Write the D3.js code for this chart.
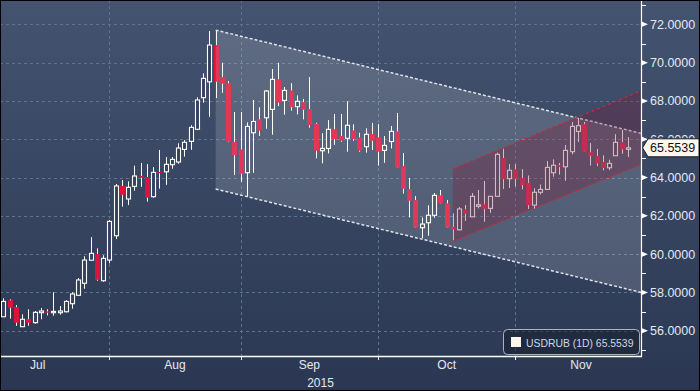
<!DOCTYPE html>
<html><head><meta charset="utf-8">
<script src="https://cdn.jsdelivr.net/npm/d3@7"></script>
<style>html,body{margin:0;padding:0;background:#2d3a55;}svg{display:block;}</style>
</head><body>
<svg id="chart" width="700" height="391"></svg>
<script>
// ---- data ----
const firstDay = new Date(2015, 6, 9);
const lastDay = new Date(2015, 10, 26);
const monthLabels = ["Jul", "Aug", "Sep", "Oct", "Nov"];
const yearLabel = "2015";
const yTicks = [56, 58, 60, 62, 64, 66, 68, 70, 72];
const yMinorTicks = [55, 57, 59, 61, 63, 65, 67, 69, 71, 73];
const open = [56.73,57.59,57.24,56.21,56.60,56.42,56.94,57.01,56.94,56.94,
56.99,57.41,57.85,58.48,59.68,60.01,58.61,59.69,60.96,63.56,
62.88,63.54,64.08,64.03,63.00,64.29,64.30,64.67,64.81,65.47,
65.89,66.52,68.17,69.00,70.92,69.25,68.92,65.85,65.47,64.25,
66.34,67.04,67.12,67.56,69.13,68.03,68.55,67.70,67.94,67.58,
66.81,65.40,65.52,66.52,66.17,66.05,66.46,66.10,65.61,66.27,
66.10,65.42,65.88,66.41,64.60,63.40,62.83,61.38,61.64,62.03,
63.07,62.65,61.42,61.27,62.34,61.95,62.50,62.60,62.39,63.02,
65.02,63.94,64.43,63.97,63.71,62.56,63.23,63.38,64.25,64.64,
64.56,65.35,66.41,66.79,65.32,65.12,64.81,64.51,65.14,65.85,
65.47];
const high = [57.69,57.64,57.34,56.86,57.12,57.03,57.19,57.12,58.01,57.29,
57.59,58.01,58.75,59.89,60.89,60.30,59.94,61.78,63.66,63.87,
63.80,64.62,64.76,64.70,64.55,65.44,65.07,65.07,65.79,65.96,
66.73,68.19,69.44,71.65,71.70,69.99,69.04,67.42,67.42,66.88,
68.05,67.67,68.57,69.67,69.99,68.73,68.93,68.29,68.11,69.25,
66.86,66.31,67.00,67.32,67.32,67.99,66.78,66.34,66.57,66.85,
66.79,66.17,66.69,67.37,65.28,63.97,63.03,61.91,62.55,63.19,
63.35,62.83,62.13,62.46,62.56,63.19,63.35,63.82,63.03,65.30,
65.56,64.70,64.70,64.44,64.11,63.44,63.64,64.86,64.95,64.76,
65.70,66.90,67.12,66.90,65.80,65.49,65.16,64.93,66.27,66.48,
66.11];
const low = [56.72,56.63,56.26,56.20,56.26,56.37,56.60,56.80,56.78,56.84,
56.96,57.15,57.85,58.19,59.68,58.61,58.56,59.52,60.79,62.48,
62.56,63.31,63.52,62.74,62.95,63.42,63.62,64.46,64.72,65.09,
65.45,66.48,67.91,67.17,68.15,68.43,65.85,64.13,63.78,63.00,
64.25,66.17,66.55,66.24,67.73,67.28,67.49,67.30,67.04,66.60,
65.00,64.74,65.26,65.71,65.87,65.35,65.92,65.35,65.30,65.44,
64.62,64.77,65.52,64.51,63.16,61.92,61.38,60.83,60.96,61.90,
62.65,61.38,60.68,61.24,61.73,61.95,62.39,61.69,62.16,63.00,
63.40,63.45,63.52,63.38,62.36,62.39,63.12,63.38,64.04,64.15,
63.83,65.21,65.85,65.35,64.62,64.60,64.38,64.39,65.14,65.24,
65.07];
const close = [57.53,57.20,56.42,56.60,56.42,56.96,57.03,56.94,57.01,57.03,
57.53,57.92,58.65,59.69,60.04,58.66,59.78,61.71,63.56,63.10,
63.49,64.08,63.99,62.95,64.27,64.24,64.69,64.95,65.54,65.84,
66.62,68.05,69.18,70.92,69.00,68.90,65.87,65.17,64.20,66.67,
66.93,66.44,68.52,69.13,67.91,68.55,67.68,67.98,67.54,66.74,
65.40,65.52,66.52,66.01,65.92,66.73,66.01,65.40,66.26,65.92,
65.35,65.68,66.41,64.51,63.42,62.79,61.38,61.57,62.03,63.07,
62.65,61.38,61.30,62.36,62.11,63.02,62.58,62.37,63.02,65.21,
63.92,64.38,63.94,63.61,62.56,63.23,63.38,64.53,64.64,64.55,
65.42,66.67,66.71,65.35,65.14,64.74,64.50,64.74,65.84,65.47,
65.5539];
const lastPrice = 65.5539;
const legendText = "USDRUB (1D) 65.5539";
// trend channels: [start index, end index], line values at start and end
const downChannelIdx = [34, 102.11];
const downUpper = [71.70, 66.31];
const downLower = [63.40, 58.00];
const upChannelIdx = [72, 102.11];
const upUpper = [64.44, 68.53];
const upLower = [60.68, 64.70];

// ---- layout ----
const W = 700, H = 391;
const plotR = 641, plotB = 356;
const svg = d3.select("#chart");
const isWeekday = d => d.getDay() % 6 !== 0;
const tradingDays = d3.timeDay.range(firstDay, d3.timeDay.offset(lastDay, 1)).filter(isWeekday);
const calStart = new Date(2015, 6, 1), calEnd = new Date(2015, 11, 1);
const calDays = d3.timeDay.range(calStart, d3.timeDay.offset(calEnd, 1)).filter(isWeekday);
const offset = calDays.findIndex(d => +d === +firstDay);
const monthStarts = d3.timeMonth.range(calStart, d3.timeDay.offset(calEnd, 1)).map(m => {
  const i = calDays.findIndex(d => d >= m);
  return { date: m, idx: i - offset };
});

const x = d3.scaleLinear().domain([-0.528, 102.11]).range([0, plotR]);
const y = d3.scaleLinear().domain([54.68, 73.22]).range([plotB, 1]);

const defs = svg.append("defs");
const grad = defs.append("linearGradient").attr("id", "bg").attr("x1", 0).attr("y1", 0).attr("x2", 0).attr("y2", 1);
grad.append("stop").attr("offset", "0%").attr("stop-color", "#44536f");
grad.append("stop").attr("offset", "55%").attr("stop-color", "#364460");
grad.append("stop").attr("offset", "100%").attr("stop-color", "#2b3752");
defs.append("clipPath").attr("id", "plotclip").append("rect").attr("x", 0).attr("y", 0).attr("width", plotR).attr("height", plotB);

svg.append("rect").attr("width", W).attr("height", H).attr("fill", "url(#bg)");

const plot = svg.append("g").attr("clip-path", "url(#plotclip)");

// grid
plot.selectAll(".hg").data(yTicks).join("line")
  .attr("x1", 0).attr("x2", plotR).attr("y1", d => Math.round(y(d)) + 0.5).attr("y2", d => Math.round(y(d)) + 0.5)
  .attr("stroke", "#5a7590").attr("stroke-width", 1).attr("stroke-dasharray", "3,3");
const gridMonths = monthStarts.filter(m => m.idx > 0 && m.idx <= 100);
plot.selectAll(".vg").data(gridMonths).join("line")
  .attr("x1", d => Math.round(x(d.idx)) + 0.5).attr("x2", d => Math.round(x(d.idx)) + 0.5)
  .attr("y1", 0).attr("y2", plotB)
  .attr("stroke", "#5a7590").attr("stroke-width", 1).attr("stroke-dasharray", "3,3");

// candles
const candles = tradingDays.map((d, i) => ({ i, o: open[i], h: high[i], l: low[i], c: close[i] }));
const bw = 5;
const cg = plot.append("g");
cg.selectAll(".wick").data(candles).join("line")
  .attr("x1", d => Math.round(x(d.i)) + 0.5).attr("x2", d => Math.round(x(d.i)) + 0.5)
  .attr("y1", d => y(d.h)).attr("y2", d => y(d.l))
  .attr("stroke", "#ffffff").attr("stroke-width", 1);
// mask wick inside hollow bodies
cg.selectAll(".bodybg").data(candles.filter(d => d.c >= d.o)).join("rect")
  .attr("x", d => Math.round(x(d.i)) - 1.5).attr("width", bw - 1)
  .attr("y", d => y(d.c)).attr("height", d => Math.max(1.2, y(d.o) - y(d.c)))
  .attr("fill", "none");
cg.selectAll(".body").data(candles).join("rect")
  .attr("x", d => d.c >= d.o ? Math.round(x(d.i)) - 1.5 : Math.round(x(d.i)) - 2)
  .attr("width", d => d.c >= d.o ? bw - 1 : bw)
  .attr("y", d => y(Math.max(d.o, d.c)))
  .attr("height", d => Math.max(1.2, Math.abs(y(d.o) - y(d.c))))
  .attr("fill", d => d.c >= d.o ? "#34415c" : "#dc143c")
  .attr("stroke", d => d.c >= d.o ? "#ffffff" : "none")
  .attr("stroke-width", 1.1);

// channels
function channel(idx, up, lo, fill, lineColor, dash) {
  const pts = [[x(idx[0]), y(up[0])], [x(idx[1]), y(up[1])], [x(idx[1]), y(lo[1])], [x(idx[0]), y(lo[0])]];
  plot.append("path").attr("d", d3.line()(pts) + "Z").attr("fill", fill);
  plot.append("line").attr("x1", pts[0][0]).attr("y1", pts[0][1]).attr("x2", pts[1][0]).attr("y2", pts[1][1])
    .attr("stroke", lineColor).attr("stroke-width", 1.5).attr("stroke-dasharray", dash);
  plot.append("line").attr("x1", pts[3][0]).attr("y1", pts[3][1]).attr("x2", pts[2][0]).attr("y2", pts[2][1])
    .attr("stroke", lineColor).attr("stroke-width", 1.5).attr("stroke-dasharray", dash);
}
channel(downChannelIdx, downUpper, downLower, "rgba(255,255,255,0.15)", "#dfe3ea", "3,2");
channel(upChannelIdx, upUpper, upLower, "rgba(125,28,52,0.3)", "#b3303c", "3,3");

// axes lines
svg.append("line").attr("x1", plotR + 0.5).attr("x2", plotR + 0.5).attr("y1", 0).attr("y2", plotB + 1)
  .attr("stroke", "#ffffff").attr("stroke-width", 1.2);
svg.append("line").attr("x1", 0).attr("x2", plotR + 1).attr("y1", plotB + 0.5).attr("y2", plotB + 0.5)
  .attr("stroke", "#ffffff").attr("stroke-width", 1.5);

// y axis ticks & labels
svg.selectAll(".ytri").data(yTicks).join("path")
  .attr("d", d => { const yy = y(d); return `M${plotR + 1},${yy - 2.5}L${plotR + 7},${yy}L${plotR + 1},${yy + 2.5}Z`; })
  .attr("fill", "#ffffff");
svg.selectAll(".yminor").data(yMinorTicks.filter(v => y(v) > 2 && y(v) < plotB - 2)).join("line")
  .attr("x1", plotR + 1).attr("x2", plotR + 5).attr("y1", d => Math.round(y(d)) + 0.5).attr("y2", d => Math.round(y(d)) + 0.5)
  .attr("stroke", "#ffffff").attr("stroke-width", 1);
svg.selectAll(".ylab").data(yTicks).join("text")
  .attr("x", 650).attr("y", d => y(d)).attr("dy", "0.36em")
  .attr("font-family", "Liberation Sans, Arial, sans-serif").attr("font-size", 12.5)
  .attr("fill", "#e3e9f0").text(d => d.toFixed(4));

// x axis ticks & labels
svg.selectAll(".xtick").data(gridMonths).join("line")
  .attr("x1", d => Math.round(x(d.idx)) + 0.5).attr("x2", d => Math.round(x(d.idx)) + 0.5)
  .attr("y1", plotB).attr("y2", plotB + 4).attr("stroke", "#ffffff").attr("stroke-width", 1);
const monthCenters = monthLabels.map((m, k) => ({ label: m, cx: (x(monthStarts[k].idx) + x(monthStarts[k + 1].idx)) / 2 }));
svg.selectAll(".xlab").data(monthCenters).join("text")
  .attr("x", d => d.cx).attr("y", 369).attr("text-anchor", "middle")
  .attr("font-family", "Liberation Sans, Arial, sans-serif").attr("font-size", 12)
  .attr("fill", "#e3e9f0").text(d => d.label);
svg.append("text").attr("x", plotR / 2).attr("y", 386.5).attr("text-anchor", "middle")
  .attr("font-family", "Liberation Sans, Arial, sans-serif").attr("font-size", 12)
  .attr("fill", "#e3e9f0").text(yearLabel);

// last price tag
const ly = y(lastPrice);
svg.append("path")
  .attr("d", `M${plotR + 1.5},${ly} L${plotR + 7},${ly - 9} L${W - 1},${ly - 9} L${W - 1},${ly + 9} L${plotR + 7},${ly + 9} Z`)
  .attr("fill", "#fdf7ee").attr("stroke", "#1a1f2a").attr("stroke-width", 1);
svg.append("text").attr("x", 650).attr("y", ly).attr("dy", "0.36em")
  .attr("font-family", "Liberation Sans, Arial, sans-serif").attr("font-size", 12.5)
  .attr("fill", "#111111").text(lastPrice.toFixed(4));

// legend
const lg = svg.append("g");
lg.append("rect").attr("x", 503.5).attr("y", 329.5).attr("width", 136).attr("height", 25).attr("rx", 4)
  .attr("fill", "rgba(24,31,48,0.55)").attr("stroke", "#aab2be").attr("stroke-width", 1);
lg.append("rect").attr("x", 511).attr("y", 337).attr("width", 10).attr("height", 10).attr("fill", "#fff5ec");
lg.append("text").attr("x", 526).attr("y", 346.5)
  .attr("font-family", "Liberation Sans, Arial, sans-serif").attr("font-size", 10.4)
  .attr("fill", "#cdd8e4").text(legendText);

// outer border
svg.append("rect").attr("x", 0.5).attr("y", 0.5).attr("width", W - 1).attr("height", H - 1)
  .attr("fill", "none").attr("stroke", "#000000").attr("stroke-width", 1);
</script>
</body></html>
